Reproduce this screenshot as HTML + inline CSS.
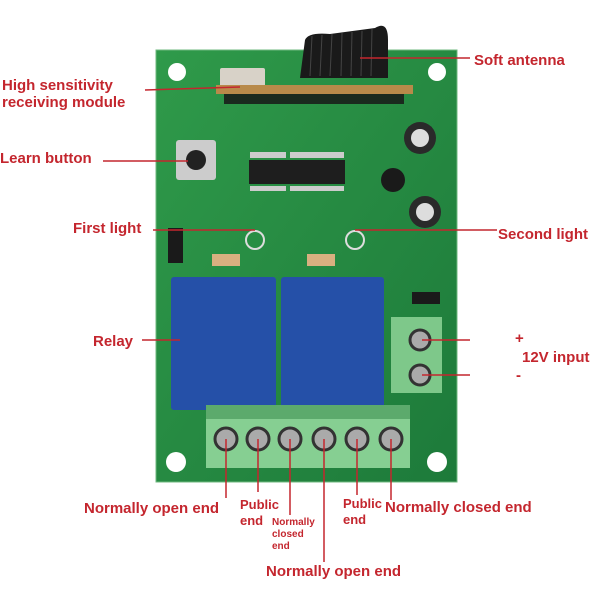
<!DOCTYPE html>
<html><head><style>
body{margin:0;width:600px;height:600px;background:#fff;position:relative;overflow:hidden;font-family:"Liberation Sans",sans-serif}
.t{position:absolute;color:#c4262e;font-weight:bold;font-size:15px;white-space:nowrap;line-height:17px}
.s{font-size:10px;line-height:12px}
.a{position:absolute}
</style></head><body>
<svg class="a" style="left:0;top:0" width="600" height="600">
<defs><linearGradient id="g" x1="0" y1="0" x2="1" y2="1"><stop offset="0" stop-color="#2f9a4a"/><stop offset="1" stop-color="#1d7a3a"/></linearGradient></defs>
<rect x="156" y="50" width="301" height="432" fill="url(#g)" stroke="#6fb87f" stroke-width="1"/>
<circle cx="177" cy="72" r="9" fill="#fff"/><circle cx="437" cy="72" r="9" fill="#fff"/>
<circle cx="176" cy="462" r="10" fill="#fff"/><circle cx="437" cy="462" r="10" fill="#fff"/>
<!-- module -->
<rect x="220" y="68" width="45" height="20" fill="#d8d2c8" rx="2"/>
<rect x="216" y="85" width="197" height="9" fill="#b88a4a"/>
<rect x="224" y="94" width="180" height="10" fill="#1a2a1e"/>
<!-- antenna -->
<path d="M300,78 L305,40 Q308,32 330,34 L375,28 Q388,20 388,40 L388,78 Z" fill="#1a1a1a"/>
<g stroke="#444" stroke-width="1">
<line x1="312" y1="36" x2="310" y2="76"/><line x1="322" y1="35" x2="320" y2="76"/><line x1="332" y1="34" x2="330" y2="76"/><line x1="342" y1="33" x2="341" y2="76"/><line x1="352" y1="32" x2="351" y2="76"/><line x1="362" y1="31" x2="361" y2="76"/><line x1="372" y1="29" x2="371" y2="76"/>
</g>
<!-- button -->
<rect x="176" y="140" width="40" height="40" fill="#ccc" rx="3"/><circle cx="196" cy="160" r="10" fill="#222"/>
<!-- ICs -->
<rect x="249" y="160" width="40" height="24" fill="#1e1e1e"/><rect x="288" y="160" width="57" height="24" fill="#1e1e1e"/>
<g fill="#ccc"><rect x="250" y="152" width="36" height="6"/><rect x="290" y="152" width="54" height="6"/><rect x="250" y="186" width="36" height="5"/><rect x="290" y="186" width="54" height="5"/></g>
<!-- caps -->
<circle cx="420" cy="138" r="16" fill="#2a2a2a"/><circle cx="420" cy="138" r="9" fill="#ddd"/>
<circle cx="425" cy="212" r="16" fill="#2a2a2a"/><circle cx="425" cy="212" r="9" fill="#ddd"/>
<circle cx="393" cy="180" r="12" fill="#1a1a1a"/>
<rect x="168" y="228" width="15" height="35" fill="#1a1a1a"/>
<circle cx="255" cy="240" r="9" fill="none" stroke="#ddd" stroke-width="2"/><circle cx="355" cy="240" r="9" fill="none" stroke="#ddd" stroke-width="2"/>
<rect x="212" y="254" width="28" height="12" fill="#d9b080"/><rect x="307" y="254" width="28" height="12" fill="#d9b080"/>
<rect x="412" y="292" width="28" height="12" fill="#1a1a1a"/>
<!-- relays -->
<rect x="171" y="277" width="105" height="133" fill="#2550a8" rx="3"/>
<rect x="281" y="277" width="103" height="133" fill="#2550a8" rx="3"/>
<!-- terminals -->
<rect x="391" y="317" width="51" height="76" fill="#7ec88a"/>
<rect x="206" y="405" width="204" height="63" fill="#86cf92"/>
<rect x="206" y="405" width="204" height="14" fill="#5caa6c"/>
<g fill="#aaa" stroke="#333" stroke-width="3">
<circle cx="420" cy="340" r="10"/><circle cx="420" cy="375" r="10"/>
<circle cx="226" cy="439" r="11"/><circle cx="258" cy="439" r="11"/><circle cx="290" cy="439" r="11"/><circle cx="324" cy="439" r="11"/><circle cx="357" cy="439" r="11"/><circle cx="391" cy="439" r="11"/>
</g>
<g stroke="#c4262e" stroke-width="1.5">
<line x1="360" y1="58" x2="470" y2="58"/>
<line x1="145" y1="90" x2="240" y2="87"/>
<line x1="103" y1="161" x2="188" y2="161"/>
<line x1="153" y1="230" x2="255" y2="230"/>
<line x1="355" y1="230" x2="497" y2="230"/>
<line x1="142" y1="340" x2="180" y2="340"/>
<line x1="422" y1="340" x2="470" y2="340"/><line x1="422" y1="375" x2="470" y2="375"/>
<line x1="226" y1="439" x2="226" y2="498"/>
<line x1="258" y1="439" x2="258" y2="492"/>
<line x1="290" y1="439" x2="290" y2="515"/>
<line x1="324" y1="439" x2="324" y2="562"/>
<line x1="357" y1="439" x2="357" y2="495"/>
<line x1="391" y1="439" x2="391" y2="500"/>
</g>
</svg>
<div class="t" style="left:2px;top:77px">High sensitivity<br>receiving module</div>
<div class="t" style="left:474px;top:52px">Soft antenna</div>
<div class="t" style="left:0;top:150px">Learn button</div>
<div class="t" style="left:73px;top:220px">First light</div>
<div class="t" style="left:498px;top:226px">Second light</div>
<div class="t" style="left:93px;top:333px">Relay</div>
<div class="t" style="left:515px;top:330px">+</div>
<div class="t" style="left:522px;top:349px">12V input</div>
<div class="t" style="left:516px;top:367px">-</div>
<div class="t" style="left:84px;top:500px">Normally open end</div>
<div class="t" style="left:240px;top:497px;font-size:13px;line-height:16px">Public<br>end</div>
<div class="t s" style="left:272px;top:517px">Normally<br>closed<br>end</div>
<div class="t" style="left:343px;top:496px;font-size:13px;line-height:16px">Public<br>end</div>
<div class="t" style="left:385px;top:499px">Normally closed end</div>
<div class="t" style="left:266px;top:563px">Normally open end</div>
</body></html>
